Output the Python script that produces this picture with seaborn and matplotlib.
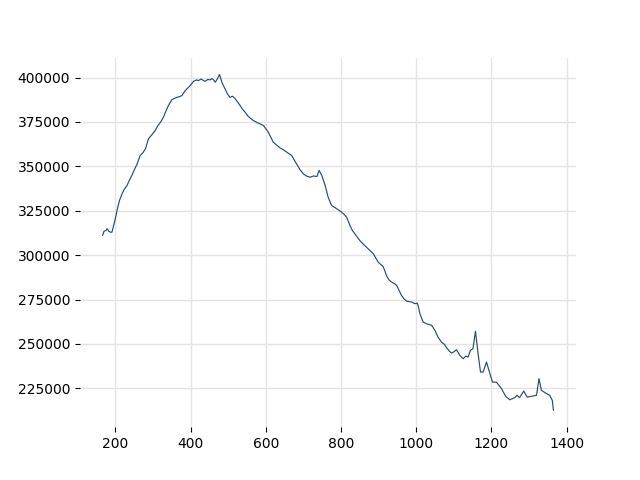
import matplotlib
matplotlib.use("Agg")
import matplotlib.pyplot as plt
import seaborn as sns
import pandas as pd

# (x, y) points
points = [
    (166, 311100), (170, 313500), (175, 313900), (178, 314900), (183, 313400),
    (187, 312950), (191, 312950), (195.5, 316700), (200, 320500),
    (204.5, 325200), (211, 330800), (218, 334600), (224, 337200), (231, 339200),
    (238, 342500), (244, 344900), (251, 348300), (258, 351400),
    (266, 356100), (273, 357600), (280, 359900), (288, 365500), (297, 367800),
    (306, 370200), (313, 372900), (320, 374800), (328, 377700), (334, 381000),
    (341, 384200), (350, 387500), (357, 388300), (364, 388900), (370, 389200),
    (377, 389900), (386, 392700), (392, 394000), (399, 395500), (408, 397900),
    (416, 398700), (421, 398300), (428, 399200), (434, 398400), (439, 397900),
    (446, 399000), (452, 398700), (457, 399400), (462, 398500), (466, 397400),
    (472, 399600), (477, 401800), (484, 397000), (492, 393600), (499, 390500),
    (505, 388900), (512, 389500), (519, 388000), (526, 386000), (532, 384200),
    (538, 382300), (545, 380500), (552, 378500), (558, 377300), (567, 375800),
    (576, 374800), (585, 373900), (594, 373000), (607, 369200), (614, 366200),
    (620, 363600), (629, 362000), (638, 360400), (647, 359300), (656, 358000),
    (669, 356100), (676, 353500), (682, 351400), (691, 348200), (700, 345800),
    (708, 344600), (718, 343900), (727, 344600), (736, 344300), (742, 347700),
    (749, 344900), (758, 339200), (766, 332600), (775, 328000), (789, 326100),
    (802, 324200), (808, 323000), (815, 321400), (824, 316700), (830, 314000),
    (837, 312000), (844, 310000), (850, 308300), (859, 306300), (868, 304500),
    (877, 302600), (886, 300800), (893, 298300), (899, 296100), (907, 294500),
    (912, 293600), (917, 291000), (921, 288500), (928, 286000), (935, 284800),
    (942, 284000), (948, 283000), (955, 280000), (961, 277300), (968, 275300),
    (975, 274100), (988, 273600), (996.5, 272700), (1002.6, 273000), (1005, 271700),
    (1010, 267000), (1018.5, 262300), (1027.5, 261400), (1041, 260500),
    (1050, 257600), (1058, 253900), (1067, 251100), (1075, 249800), (1081, 247800),
    (1088, 246000), (1094, 244900), (1101, 245700), (1107, 246800), (1116, 243600),
    (1125, 241700), (1132, 243200), (1138, 242600), (1144, 246400), (1151, 247300),
    (1157.6, 257200), (1164.6, 244500), (1171, 234200), (1178, 234200), (1187, 239800),
    (1196, 233300), (1203, 228500), (1213, 228500), (1220, 226800), (1227, 224800),
    (1238, 220500), (1249, 218600), (1262, 219800), (1268, 221100), (1275, 219800),
    (1286, 223500), (1295, 220100), (1306, 220500), (1320, 221100), (1326.5, 230500),
    (1333, 223900), (1344, 222400), (1355, 221100), (1362, 218200), (1365, 212600),
]
x_vals = [p[0] for p in points]
y_vals = [p[1] for p in points]
x_ticks = [200, 400, 600, 800, 1000, 1200, 1400]
y_ticks = [225000, 250000, 275000, 300000, 325000, 350000, 375000, 400000]

df = pd.DataFrame({"x": x_vals, "y": y_vals})

sns.set_style("white")
fig, ax = plt.subplots(figsize=(6.4, 4.8), dpi=100)
sns.lineplot(data=df, x="x", y="y", ax=ax, color="#2b4a72", linewidth=0.85,
             estimator=None, sort=False)

for s in ax.spines.values():
    s.set_visible(False)
ax.grid(True, color="#e4e4e4", linewidth=1.0)
ax.set_axisbelow(True)
ax.tick_params(axis="both", which="both", length=3.5, width=0.8, color="black",
               bottom=True, left=True, labelsize=10, labelcolor="black")
ax.set_xlabel("")
ax.set_ylabel("")
ax.set_xticks(x_ticks)
ax.set_yticks(y_ticks)
ax.ticklabel_format(axis="y", style="plain", useOffset=False)
fig.subplots_adjust(left=0.125, right=0.9, bottom=0.11, top=0.88)
fig.savefig("out.png", dpi=100)
